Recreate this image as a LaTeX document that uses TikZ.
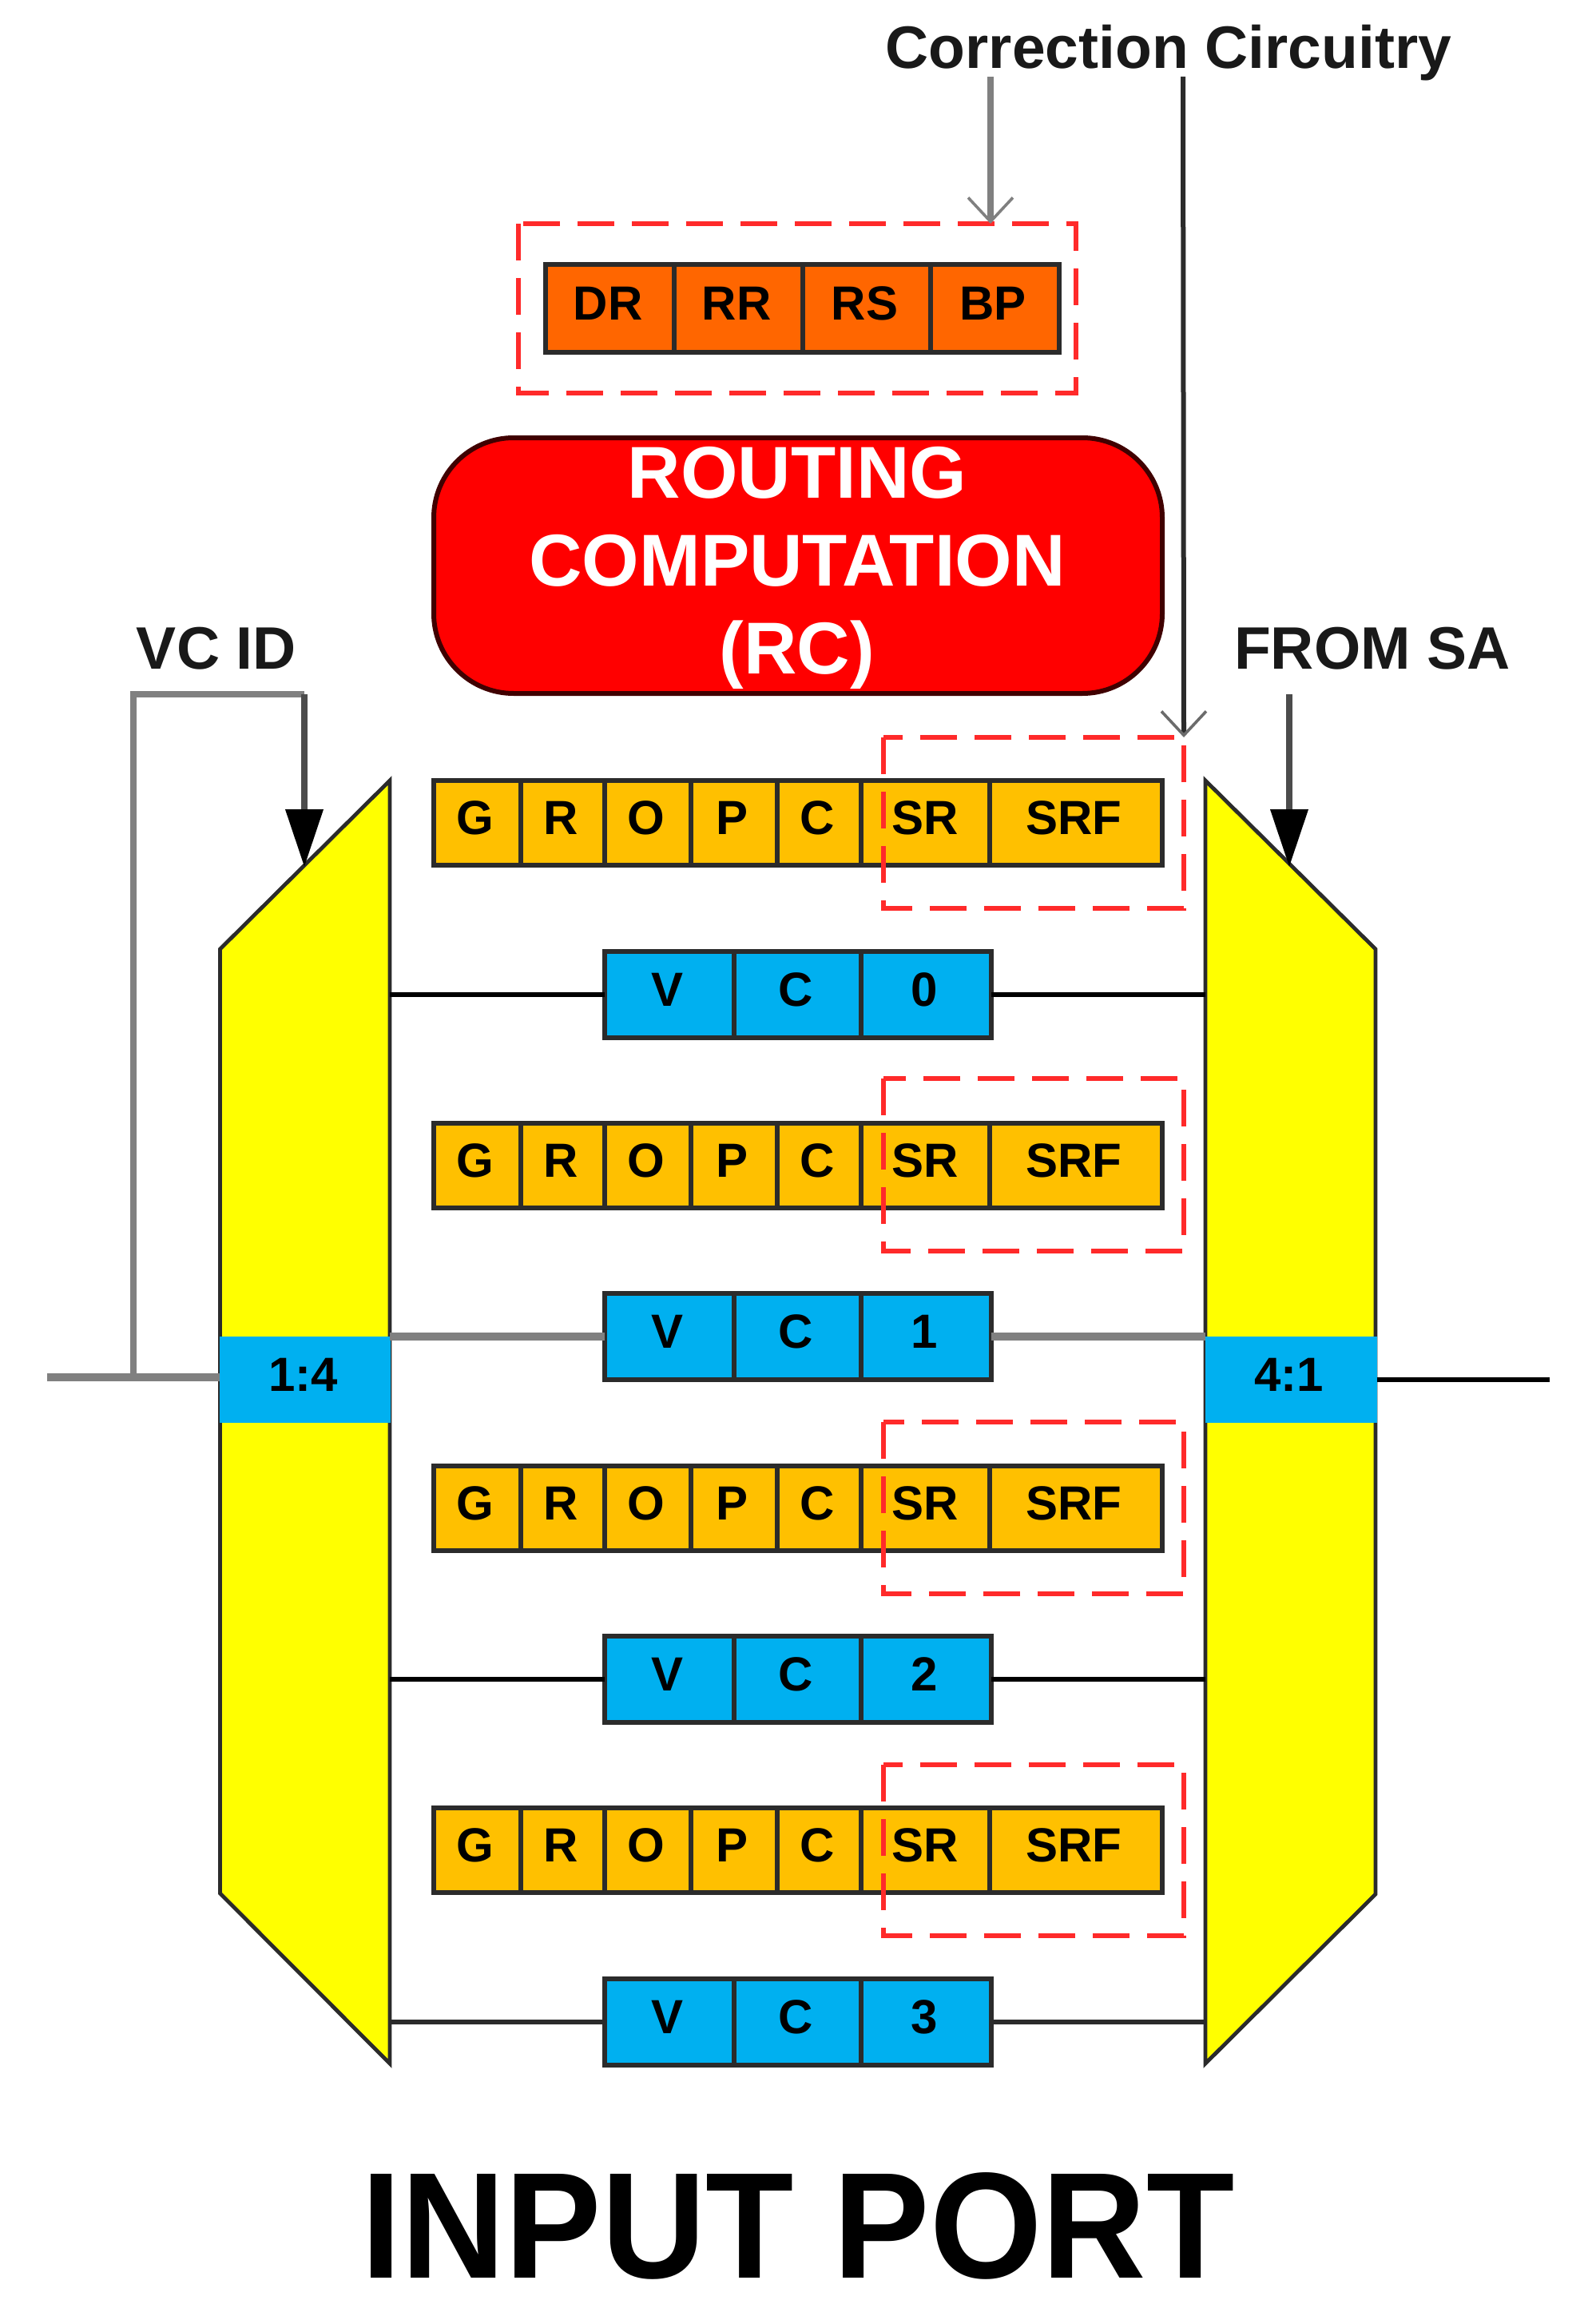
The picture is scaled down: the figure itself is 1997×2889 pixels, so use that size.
\documentclass[tikz,border=0pt]{standalone}
\usepackage{fontspec}
\setmainfont{Liberation Sans}
\usetikzlibrary{arrows.meta,calc}
\definecolor{cellorange}{HTML}{FF6600}
\definecolor{cellamber}{HTML}{FFC000}
\definecolor{cellblue}{HTML}{00B0F0}
\definecolor{muxyellow}{HTML}{FFFF00}
\definecolor{rcred}{HTML}{FF0000}
\definecolor{dashred}{HTML}{FF2A2A}
\definecolor{edgedark}{HTML}{2B2B2B}
\definecolor{wiregrey}{HTML}{808080}
\tikzset{
  cellbox/.style={draw=edgedark,line width=2.6pt,inner sep=0pt,outer sep=0pt,
    text=black,font=\fontsize{30}{36}\bfseries\selectfont,text height=21.5pt,text depth=7pt},
  nudged/.style={execute at begin node=\hspace*{-2.5pt}},
  ambercell/.style={cellbox,nudged,fill=cellamber},
  srcell/.style={cellbox,fill=cellamber},
  bluecell/.style={cellbox,nudged,fill=cellblue},
  orangecell/.style={cellbox,nudged,fill=cellorange},
  muxbody/.style={fill=muxyellow,draw=edgedark,line width=2.4pt,line join=miter},
  muxband/.style={fill=cellblue,draw=none,inner sep=0pt,outer sep=0pt,nudged,
    font=\fontsize{30}{36}\bfseries\selectfont,text height=21.5pt,text depth=7pt},
  wireblack/.style={draw=black,line width=2.8pt},
  wiregray/.style={draw=wiregrey,line width=4.6pt},
  wiredark/.style={draw=edgedark,line width=3.2pt},
  dashframe/.style={draw=dashred,line width=2.6pt,dash pattern=on 23pt off 11pt},
  barbgray/.style={draw=wiregrey,line width=4.4pt,-{Straight Barb[length=15pt,width=28pt,line width=1.8pt]}},
  barbblack/.style={draw=edgedark,line width=3pt,-{Straight Barb[length=15pt,width=28pt,line width=1.8pt,color=edgedark!70]}},
  solidhead/.style={line width=3.6pt,-{Triangle[length=36pt,width=23pt,color=black]}},
  caption/.style={font=\fontsize{37.5}{45}\bfseries\selectfont,anchor=base,inner sep=0pt,text=black!90},
}
\newcommand{\regcell}[7]{\node[#6,minimum width={(#3-#2)*0.5pt},minimum height={#5*0.5pt}] (#1) at ({(#2+#3)/2},#4) {#7};}
\begin{document}
\begin{tikzpicture}[x=0.5pt,y=-0.5pt]
\useasboundingbox (0,0) rectangle (1997,2889);

% multiplexer corners
\coordinate (lA) at (488,977);
\coordinate (lB) at (275.5,1188);
\coordinate (lC) at (275.5,2370);
\coordinate (lD) at (488,2583);
\coordinate (rA) at (1509,977);
\coordinate (rB) at (1722,1188);
\coordinate (rC) at (1722,2371);
\coordinate (rD) at (1509,2583);
\draw[muxbody] (lA) -- (lB) -- (lC) -- (lD) -- cycle;
\draw[muxbody] (rA) -- (rB) -- (rC) -- (rD) -- cycle;
\node[muxband,minimum width={214*0.5pt},minimum height={108*0.5pt}] (bandL) at (382,1727) {1:4};
\node[muxband,minimum width={215*0.5pt},minimum height={108*0.5pt}] (bandR) at (1616,1727) {4:1};

% routing computation
\node[draw=black!75!red,line width=3pt,fill=rcred,rounded corners=50pt,inner sep=0pt,
      minimum width={912*0.5pt},minimum height={320*0.5pt}] (rcbox) at (999,708) {};
\node[text=white,align=center,inner sep=0pt,font=\fontsize{46}{55}\bfseries\selectfont] (rctext) at (998,711)
  {ROUTING\\COMPUTATION\\(RC)};

% correction register
\regcell{dr}{683}{844}{386}{110}{orangecell}{DR}
\regcell{rr}{844}{1005}{386}{110}{orangecell}{RR}
\regcell{rs}{1005}{1165}{386}{110}{orangecell}{RS}
\regcell{bp}{1165}{1326}{386}{110}{orangecell}{BP}

% buffer rows
\foreach \i/\g/\v/\wire/\dt/\db in {0/1030/1245/wireblack/923/1137,
                                    1/1459/1673/wiregray/1350/1566,
                                    2/1888/2102/wireblack/1780/1995,
                                    3/2316/2531/wiredark/2209/2423}{
  \regcell{g\i}{543}{652}{\g}{106}{ambercell}{G}
  \regcell{r\i}{652}{757}{\g}{106}{ambercell}{R}
  \regcell{o\i}{757}{865}{\g}{106}{ambercell}{O}
  \regcell{p\i}{865}{973}{\g}{106}{ambercell}{P}
  \regcell{c\i}{973}{1078}{\g}{106}{ambercell}{C}
  \regcell{sr\i}{1078}{1239}{\g}{106}{srcell}{SR}
  \regcell{srf\i}{1239}{1455}{\g}{106}{ambercell}{SRF}
  \regcell{vcv\i}{757}{919}{\v}{108}{bluecell}{V}
  \regcell{vcc\i}{919}{1078}{\v}{108}{bluecell}{C}
  \regcell{vcn\i}{1078}{1241}{\v}{108}{bluecell}{\i}
  \draw[\wire] (lA |- vcv\i.west) -- (vcv\i.west);
  \draw[\wire] (vcn\i.east) -- (rA |- vcn\i.east);
  \coordinate (ftl\i) at (1106,\dt);
  \coordinate (fbl\i) at (1106,\db);
  \coordinate (fbr\i) at (1482,\db);
  \coordinate (ftr\i) at (1482,\dt);
  \draw[dashframe] (ftl\i) -- (fbl\i) -- (fbr\i) -- (ftr\i) -- cycle;
}

% frame of the correction register
\coordinate (ctl) at (649,280);
\coordinate (cbl) at (649,492);
\coordinate (cbr) at (1347,492);
\coordinate (ctr) at (1347,280);
\draw[dashframe] (ctl) -- (cbl) -- (cbr) -- (ctr) -- cycle;

% input and output wires
\coordinate (inEnd) at (59,1724);
\coordinate (inJoin) at (167,1724);
\coordinate (vcTurn) at (381,869);
\coordinate (vcTip) at (381,1085);
\coordinate (outEnd) at (1940,1727);
\draw[wiregray] (inEnd) -- (bandL.west |- inEnd);
\draw[wiregray,line width=4pt,line join=miter] (inJoin) |- (vcTurn);
\draw[solidhead,draw=black!70] (vcTurn) -- (vcTip);
\draw[wireblack] (bandR.east |- outEnd) -- (outEnd);

% captions
\node[caption] (cctext) at (1463,86) {Correction Circuitry};
\node[caption] (vctext) at (271,837) {VC ID};
\node[caption] (satext) at (1718,837) {FROM SA};
\node[anchor=base,inner sep=0pt,font=\fontsize{94.5}{110}\bfseries\selectfont] (title) at (999,2851) {\scalebox{0.955}[1]{INPUT PORT}};

% arrows
\coordinate (ccA) at (1240,96);
\coordinate (ccAend) at (1240,280);
\coordinate (ccB) at (1481,96);
\coordinate (saStart) at (1614,869);
\coordinate (saTip) at (1614,1085);
\draw[barbgray] (ccA) -- (ccAend);
\draw[barbblack] (ccB) -- (ftr0);
\draw[solidhead,draw=black!70] (saStart) -- (saTip);
\end{tikzpicture}
\end{document}
